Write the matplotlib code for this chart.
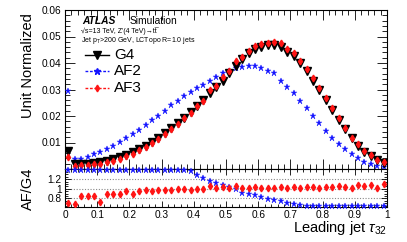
import numpy as np
import matplotlib
matplotlib.use("Agg")
import matplotlib.pyplot as plt
from matplotlib.ticker import MultipleLocator, FixedLocator, NullFormatter

plt.rcParams['font.family'] = ['Liberation Sans', 'DejaVu Sans']
plt.rcParams['mathtext.fontset'] = 'custom'
plt.rcParams['mathtext.rm'] = 'Liberation Sans'
plt.rcParams['mathtext.it'] = 'Liberation Sans:italic'

# ---- data (bin centres of Leading jet tau32, 50 bins of 0.02) ----
tau32 = np.arange(50) * 0.02 + 0.01

g4 = [0.0069, 0.0017, 0.0018, 0.0019, 0.0021, 0.0025, 0.0030, 0.0036, 0.0044, 0.0053,
      0.0063, 0.0074, 0.0086, 0.0101, 0.0117, 0.0135, 0.0153, 0.0173, 0.0194, 0.0214,
      0.0236, 0.0260, 0.0286, 0.0308, 0.0333, 0.0362, 0.0389, 0.0414, 0.0438, 0.0452,
      0.0462, 0.0468, 0.0469, 0.0460, 0.0443, 0.0425, 0.0399, 0.0368, 0.0333, 0.0298,
      0.0260, 0.0223, 0.0185, 0.0150, 0.0116, 0.0087, 0.0065, 0.0049, 0.0034, 0.0024]

af2 = [0.0295, 0.0039, 0.0036, 0.0046, 0.0055, 0.0065, 0.0076, 0.0088, 0.0102, 0.0117,
       0.0132, 0.0148, 0.0166, 0.0184, 0.0201, 0.0219, 0.0240, 0.0258, 0.0274, 0.0290,
       0.0305, 0.0316, 0.0331, 0.0346, 0.0361, 0.0370, 0.0382, 0.0386, 0.0389, 0.0388,
       0.0381, 0.0371, 0.0361, 0.0333, 0.0311, 0.0288, 0.0258, 0.0229, 0.0200, 0.0173,
       0.0143, 0.0116, 0.0094, 0.0074, 0.0057, 0.0040, 0.0028, 0.0019, 0.0013, 0.0009]

af3 = [0.0047, 0.0012, 0.0015, 0.0016, 0.0018, 0.0018, 0.0026, 0.0032, 0.0039, 0.0050,
       0.0055, 0.0071, 0.0083, 0.0097, 0.0113, 0.0131, 0.0150, 0.0171, 0.0194, 0.0210,
       0.0236, 0.0257, 0.0300, 0.0314, 0.0346, 0.0369, 0.0408, 0.0422, 0.0447, 0.0466,
       0.0471, 0.0477, 0.0478, 0.0474, 0.0452, 0.0438, 0.0407, 0.0379, 0.0343, 0.0304,
       0.0268, 0.0230, 0.0194, 0.0155, 0.0118, 0.0094, 0.0069, 0.0053, 0.0035, 0.0026]

# ratio panel values as displayed (AF/G4)
ratio_af2 = [1.38, 1.38, 1.38, 1.38, 1.38, 1.38, 1.38, 1.38, 1.38, 1.38,
             1.38, 1.38, 1.38, 1.38, 1.38, 1.38, 1.38, 1.38, 1.38, 1.37,
             1.28, 1.22, 1.16, 1.12, 1.08, 1.03, 0.99, 0.92, 0.89, 0.87,
             0.83, 0.79, 0.77, 0.74, 0.71, 0.69, 0.67, 0.65, 0.64, 0.64,
             0.64, 0.64, 0.64, 0.64, 0.64, 0.64, 0.64, 0.64, 0.64, 0.64]

ratio_af3 = [0.71, 0.69, 0.85, 0.85, 0.85, 0.73, 0.88, 0.89, 0.88, 0.95,
             0.88, 0.96, 0.97, 0.96, 0.97, 0.97, 0.98, 0.99, 1.00, 0.98,
             1.00, 0.99, 1.05, 1.02, 1.04, 1.02, 1.05, 1.02, 1.02, 1.03,
             1.02, 1.02, 1.02, 1.03, 1.02, 1.03, 1.02, 1.03, 1.03, 1.02,
             1.03, 1.03, 1.05, 1.03, 1.02, 1.08, 1.06, 1.08, 1.02, 1.10]

series_labels = ["G4", "AF2", "AF3"]
x_ticks = [0, 0.1, 0.2, 0.3, 0.4, 0.5, 0.6, 0.7, 0.8, 0.9, 1.0]
x_ticklabels = ["0", "0.1", "0.2", "0.3", "0.4", "0.5", "0.6", "0.7", "0.8", "0.9", "1"]
y_ticks = [0.01, 0.02, 0.03, 0.04, 0.05, 0.06]
y_ticklabels = ["0.01", "0.02", "0.03", "0.04", "0.05", "0.06"]
r_ticks = [0.8, 1.0, 1.2]
r_ticklabels = ["0.8", "1", "1.2"]

# ---- figure ----
W, H = 407, 242
fig = plt.figure(figsize=(W / 100, H / 100), dpi=100)
L, R = 65 / W, 387 / W
ax = fig.add_axes([L, 1 - 169 / H, R - L, (169 - 10) / H])
axr = fig.add_axes([L, 1 - 207 / H, R - L, (207 - 169) / H])

blue = '#1414ff'
red = '#ff1414'

ax.plot(tau32, af2, ls='none', marker='*', ms=4.8, color=blue, mec=blue, mew=0.3, zorder=3)
ax.plot(tau32, g4, ls='none', marker='v', ms=5.2, color='black', zorder=4)
ax.errorbar(tau32, af3, yerr=0.0004, ls='none', marker='d', ms=3.4, color=red,
            elinewidth=0.9, capsize=0, zorder=5)

ax.set_xlim(0, 1)
ax.set_ylim(0, 0.06)

axr.plot(tau32, ratio_af2, ls='none', marker='*', ms=4.8, color=blue, mew=0.3, zorder=3, clip_on=False)
axr.errorbar(tau32, ratio_af3, yerr=0.03, ls='none', marker='d', ms=3.4, color=red,
             elinewidth=0.9, capsize=0, zorder=4)
axr.set_xlim(0, 1)
axr.set_ylim(0.62, 1.41)
for v in r_ticks:
    axr.axhline(v, color='#888888', ls=(0, (1, 1.5)), lw=0.8, zorder=1)

# ticks
for a in (ax, axr):
    a.tick_params(which='both', direction='in', top=True, right=True, labelsize=7.3,
                  width=0.6, pad=2.5)
    a.xaxis.set_major_locator(FixedLocator(x_ticks))
    a.xaxis.set_minor_locator(MultipleLocator(0.02))
    for s in a.spines.values():
        s.set_linewidth(0.8)

ax.tick_params(which='major', length=7)
ax.tick_params(which='minor', length=3.5)
axr.tick_params(which='major', length=4.5)
axr.tick_params(which='minor', length=2.5)

ax.xaxis.set_major_formatter(NullFormatter())
ax.yaxis.set_major_locator(FixedLocator(y_ticks))
ax.set_yticklabels(y_ticklabels)
ax.yaxis.set_minor_locator(MultipleLocator(0.002))

axr.set_xticks(x_ticks)
axr.set_xticklabels(x_ticklabels)
axr.yaxis.set_major_locator(FixedLocator(r_ticks))
axr.set_yticklabels(r_ticklabels)
axr.yaxis.set_minor_locator(MultipleLocator(0.05))

# axis labels
fig.text(28 / W, 1 - 66 / H, "Unit Normalized", rotation=90, ha='center', va='center', fontsize=10.5)
fig.text(28 / W, 1 - 189 / H, "AF/G4", rotation=90, ha='center', va='center', fontsize=10.5)
fig.text(R, 1 - 228 / H, r"Leading jet $\tau_{32}$", ha='right', va='center', fontsize=10.5)

# ATLAS label block
fig.text(82 / W, 1 - 21.5 / H, "ATLAS", fontsize=7.4, fontweight='bold', fontstyle='italic',
         ha='left', va='center')
fig.text(130 / W, 1 - 21.5 / H, "Simulation", fontsize=7.4, ha='left', va='center')
fig.text(81 / W, 1 - 31.5 / H, "\u221as=13 TeV, Z'(4 TeV)\u2192tt\u0305",
         fontsize=5.0, ha='left', va='center')
fig.text(81 / W, 1 - 40 / H, r"Jet p$_{\mathrm{T}}$>200 GeV, LCTopo R=1.0 jets",
         fontsize=5.0, ha='left', va='center')

# legend (manual, ROOT style)
leg_rows = [(55, 'black', '-', 'v', 5.2), (71, blue, (0, (2, 1.2)), '*', 4.8), (88, red, (0, (2, 1.2)), 'd', 3.4)]
for (yy, col, ls, mk, ms), lab in zip(leg_rows, series_labels):
    yf = 1 - yy / H
    fig.add_artist(plt.Line2D([85 / W, 109 / W], [yf, yf], color=col, ls=ls, lw=1.0,
                              transform=fig.transFigure))
    fig.add_artist(plt.Line2D([97 / W], [yf], color=col, marker=mk, ms=ms, ls='none',
                              transform=fig.transFigure))
    fig.text(114 / W, yf, lab, fontsize=11, ha='left', va='center')

fig.savefig("out.png", dpi=100)
